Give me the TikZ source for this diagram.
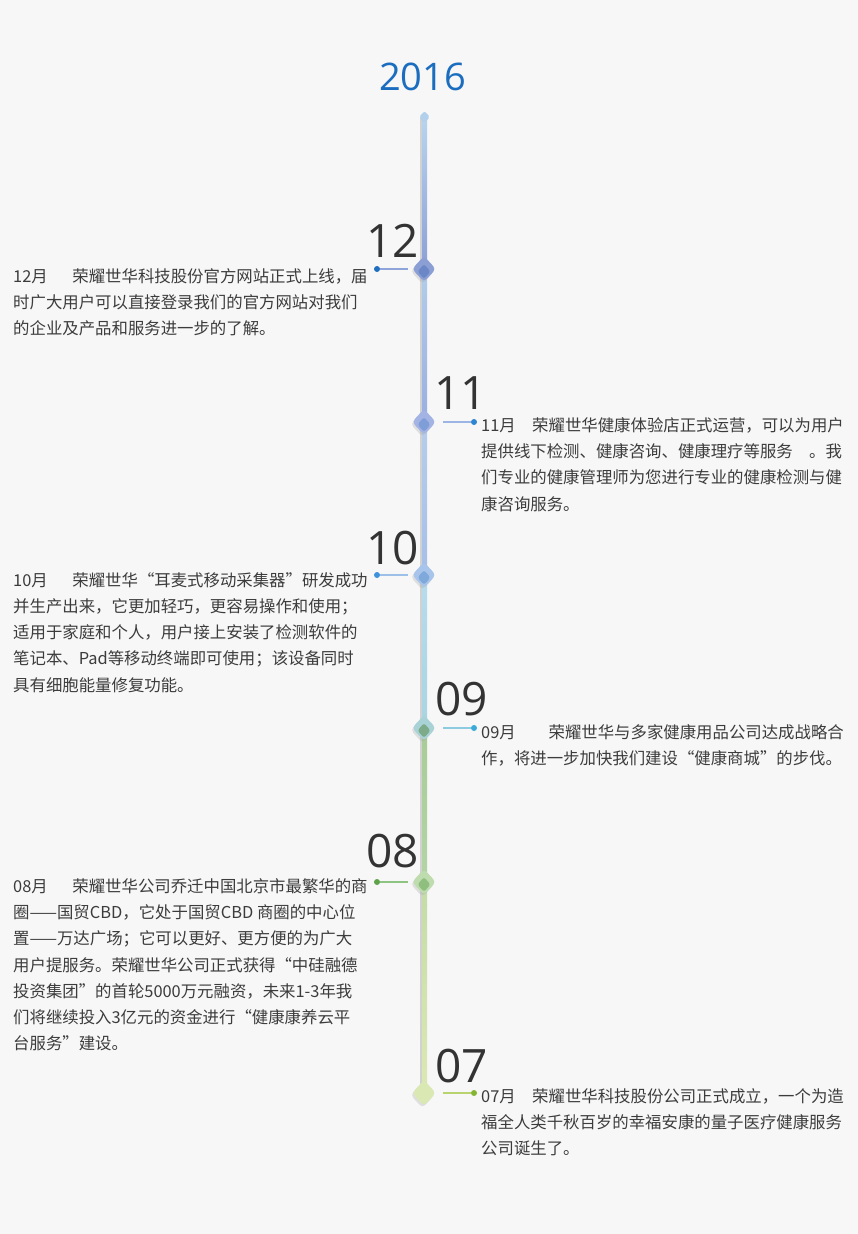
\documentclass[tikz,border=0pt]{standalone}
\usepackage{fontspec}
\setmainfont{Open Sans}
\newfontfamily\cjk{Noto Sans CJK SC}
\usetikzlibrary{shapes.geometric}

\definecolor{bg}{HTML}{F7F7F7}
\definecolor{yearblue}{HTML}{1B6DBF}
\definecolor{numgray}{HTML}{333333}
\definecolor{txtgray}{HTML}{3C3C3C}
\definecolor{capblue}{HTML}{B2D0EC}
% knots, pins, tips, links
\definecolor{knotA}{HTML}{8B9FD4}\definecolor{pinA}{HTML}{6C87C6}\definecolor{tipA}{HTML}{1F6FC0}\definecolor{linkA}{HTML}{8FA4D8}
\definecolor{knotB}{HTML}{A3B3E3}\definecolor{pinB}{HTML}{7F9DD6}\definecolor{tipB}{HTML}{2F85D0}\definecolor{linkB}{HTML}{9DB5E5}
\definecolor{knotC}{HTML}{A9C4EA}\definecolor{pinC}{HTML}{7FA9DB}\definecolor{tipC}{HTML}{3F92DA}\definecolor{linkC}{HTML}{9CC0E8}
\definecolor{knotD}{HTML}{A8D2D6}\definecolor{pinD}{HTML}{7DAA88}\definecolor{tipD}{HTML}{3AAAD8}\definecolor{linkD}{HTML}{8DCBE0}
\definecolor{knotE}{HTML}{BEDCAE}\definecolor{pinE}{HTML}{8FBF7E}\definecolor{tipE}{HTML}{5EA24C}\definecolor{linkE}{HTML}{8EC382}
\definecolor{knotF}{HTML}{DAE8B4}\definecolor{tipF}{HTML}{86B534}\definecolor{linkF}{HTML}{B9D46E}
% spine
\definecolor{sp0}{HTML}{B8D4EE}\definecolor{sp1}{HTML}{8C9FD6}
\definecolor{sp2}{HTML}{B2CDEA}\definecolor{sp3}{HTML}{9AAEE0}
\definecolor{sp4}{HTML}{B6CDEA}\definecolor{sp5}{HTML}{A6BFE8}
\definecolor{sp6}{HTML}{B8DCEC}\definecolor{sp7}{HTML}{A8D4E0}
\definecolor{sp8}{HTML}{A8CC98}\definecolor{sp9}{HTML}{B4D4A4}
\definecolor{sp10}{HTML}{C4DCA8}\definecolor{sp11}{HTML}{DCE8B4}

\begin{document}
\begin{tikzpicture}[x=1pt,y=-1pt,
  knot/.style={diamond,minimum width=24pt,minimum height=26pt,inner sep=0pt,rounded corners=4pt},
  knotshadow/.style={knot,fill=black!35,opacity=0.3},
  pin/.style={diamond,minimum width=13pt,minimum height=15pt,inner sep=0pt,rounded corners=2.5pt},
  tip/.style={circle,inner sep=0pt,minimum size=6pt},
  link/.style={line width=1.4pt},
  bignum/.style={font=\fontsize{46}{46}\selectfont,text=numgray,inner sep=0pt},
  entry/.style={font=\cjk\fontsize{16.4}{26.3}\selectfont,text=txtgray,align=left,inner sep=0pt,anchor=north west},
  ]
  \fill[bg] (0,0) rectangle (858,1234);
  \useasboundingbox (0,0) rectangle (858,1234);

  \node[font=\fontsize{38}{38}\selectfont,text=yearblue,inner sep=0pt,anchor=base] (year) at (422.5,90) {2016};

  \draw[black!18,line width=1.3pt] (421,117) -- (421,1093);
  \shade[top color=sp0,bottom color=sp1] (422,117) rectangle (427,269);
  \shade[top color=sp2,bottom color=sp3] (422,269) rectangle (427,422);
  \shade[top color=sp4,bottom color=sp5] (422,422) rectangle (427,575);
  \shade[top color=sp6,bottom color=sp7] (422,575) rectangle (427,728);
  \shade[top color=sp8,bottom color=sp9] (422,728) rectangle (427,882);
  \shade[top color=sp10,bottom color=sp11] (422,882) rectangle (427,1093);
  \node[diamond,minimum width=11pt,minimum height=12pt,inner sep=0pt,rounded corners=2pt,fill=capblue] (top) at (424.5,117) {};

  % 12
  \node[knotshadow] at (422.5,271) {};
  \node[knot,fill=knotA] (d12) at (424,269) {};
  \node[pin,fill=pinA] (i12) at (424,271.5) {};
  \node[bignum,anchor=base east] (n12) at (419,257) {12};
  \node[tip,fill=tipA] (p12) at (377,269) {};
  \draw[link,linkA,shorten >=4pt] (p12) -- (d12);
  \node[entry] (t12) at (13,268) {12月\hspace{1.5em}荣耀世华科技股份官方网站正式上线，届\\时广大用户可以直接登录我们的官方网站对我们\\的企业及产品和服务进一步的了解。};

  % 11
  \node[knotshadow] at (422.5,424) {};
  \node[knot,fill=knotB] (d11) at (424,422) {};
  \node[pin,fill=pinB] (i11) at (424,424.5) {};
  \node[bignum,anchor=base west] (n11) at (434,409) {11};
  \node[tip,fill=tipB] (p11) at (474,422) {};
  \draw[link,linkB,shorten <=7pt] (d11) -- (p11);
  \node[entry] (t11) at (481,417) {11月　荣耀世华健康体验店正式运营，可以为用户\\提供线下检测、健康咨询、健康理疗等服务　。我\\们专业的健康管理师为您进行专业的健康检测与健\\康咨询服务。};

  % 10
  \node[knotshadow] at (422.5,577) {};
  \node[knot,fill=knotC] (d10) at (424,575) {};
  \node[pin,fill=pinC] (i10) at (424,577.5) {};
  \node[bignum,anchor=base east] (n10) at (419,564) {10};
  \node[tip,fill=tipC] (p10) at (377,575) {};
  \draw[link,linkC,shorten >=4pt] (p10) -- (d10);
  \node[entry] (t10) at (13,572) {10月\hspace{1.5em}荣耀世华“耳麦式移动采集器”研发成功\\并生产出来，它更加轻巧，更容易操作和使用；\\适用于家庭和个人，用户接上安装了检测软件的\\笔记本、Pad等移动终端即可使用；该设备同时\\具有细胞能量修复功能。};

  % 09
  \node[knotshadow] at (422.5,730) {};
  \node[knot,fill=knotD] (d09) at (424,728) {};
  \node[pin,fill=pinD] (i09) at (424,730.5) {};
  \node[bignum,anchor=base west] (n09) at (435,715) {09};
  \node[tip,fill=tipD] (p09) at (474,728) {};
  \draw[link,linkD,shorten <=7pt] (d09) -- (p09);
  \node[entry] (t09) at (481,724) {09月　　荣耀世华与多家健康用品公司达成战略合\\作，将进一步加快我们建设“健康商城”的步伐。};

  % 08
  \node[knotshadow] at (422.5,884) {};
  \node[knot,fill=knotE] (d08) at (424,882) {};
  \node[pin,fill=pinE] (i08) at (424,884.5) {};
  \node[bignum,anchor=base east] (n08) at (419,867) {08};
  \node[tip,fill=tipE] (p08) at (377,882) {};
  \draw[link,linkE,shorten >=4pt] (p08) -- (d08);
  \node[entry] (t08) at (13,878) {08月\hspace{1.5em}荣耀世华公司乔迁中国北京市最繁华的商\\圈——国贸CBD，它处于国贸CBD 商圈的中心位\\置——万达广场；它可以更好、更方便的为广大\\用户提服务。荣耀世华公司正式获得“中硅融德\\投资集团”的首轮5000万元融资，未来1-3年我\\们将继续投入3亿元的资金进行“健康康养云平\\台服务”建设。};

  % 07
  \node[knotshadow] at (422.5,1095) {};
  \node[knot,fill=knotF] (d07) at (424,1093) {};
  \node[bignum,anchor=base west] (n07) at (435,1082) {07};
  \node[tip,fill=tipF] (p07) at (474,1093) {};
  \draw[link,linkF,shorten <=7pt] (d07) -- (p07);
  \node[entry] (t07) at (481,1088) {07月　荣耀世华科技股份公司正式成立，一个为造\\福全人类千秋百岁的幸福安康的量子医疗健康服务\\公司诞生了。};
\end{tikzpicture}
\end{document}
